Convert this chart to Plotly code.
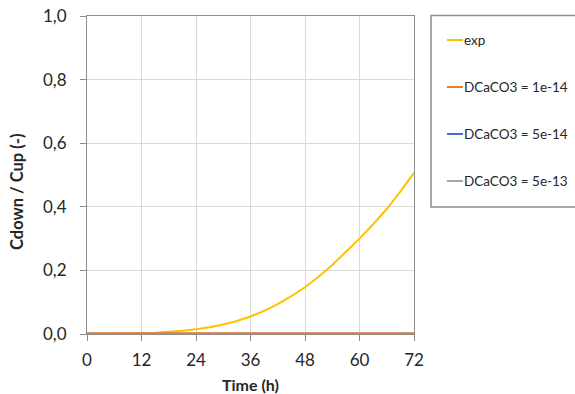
import plotly.graph_objects as go

time_h = [0, 3, 6, 9, 12, 15, 18, 21, 24, 27, 30, 33, 36, 39, 42, 45, 48, 51, 54, 57, 60, 63, 66, 69, 72]
exp_vals = [0.0, 0.0, 0.0003, 0.001, 0.002, 0.004, 0.006, 0.010, 0.015, 0.021, 0.030, 0.041, 0.055,
            0.073, 0.094, 0.119, 0.147, 0.180, 0.217, 0.257, 0.300, 0.345, 0.393, 0.448, 0.507]
model_time = [0, 72]
d_1e14 = [0.002, 0.002]
d_5e14 = [0.001, 0.001]
d_5e13 = [0.0005, 0.0005]

x_ticks = [0, 12, 24, 36, 48, 60, 72]
y_ticks = [0, 0.2, 0.4, 0.6, 0.8, 1.0]

series_names = ["exp", "DCaCO3 = 1e-14", "DCaCO3 = 5e-14", "DCaCO3 = 5e-13"]
series_colors = ["#FFC000", "#ED7D31", "#4472C4", "#A5A5A5"]

W, H = 575, 394
# target plot area in window pixels: x 87..414, y 16..334
ML, MT = 87, 16
MR = W - 414
MB = H - 334
PW, PH = W - ML - MR, H - MT - MB


def px(p):
    """window pixel x -> paper fraction"""
    return (p - ML) / PW


def py(p):
    """window pixel y -> paper fraction"""
    return (H - MB - p) / PH


font = "Lato"
txt = "#262626"
fig = go.Figure()
fig.add_trace(go.Scatter(x=time_h, y=exp_vals, mode="lines", name=series_names[0],
                         line=dict(color=series_colors[0], width=2), showlegend=False))
fig.add_trace(go.Scatter(x=model_time, y=d_5e13, mode="lines", name=series_names[3],
                         line=dict(color=series_colors[3], width=2), showlegend=False))
fig.add_trace(go.Scatter(x=model_time, y=d_5e14, mode="lines", name=series_names[2],
                         line=dict(color=series_colors[2], width=2), showlegend=False))
fig.add_trace(go.Scatter(x=model_time, y=d_1e14, mode="lines", name=series_names[1],
                         line=dict(color=series_colors[1], width=2), showlegend=False))

axis_common = dict(showline=True, linecolor="#8c8c8c", linewidth=1, mirror=True,
                   showgrid=True, gridcolor="#d9d9d9", gridwidth=1, zeroline=False,
                   ticks="outside", ticklen=6, tickcolor="#8c8c8c", automargin=False,
                   ticklabeloverflow="allow",
                   tickfont=dict(family=font, size=17, color=txt))
fig.update_xaxes(range=[0, 72], tickvals=x_ticks, ticklabelstandoff=5,
                 title=dict(text="<b>Time (h)</b>", font=dict(family=font, size=16, color=txt), standoff=11),
                 **axis_common)
fig.update_yaxes(range=[0, 1], tickvals=y_ticks, tickformat=".1f", ticklabelstandoff=10,
                 **axis_common)

# y axis title
fig.add_annotation(text="<b>Cdown / Cup (-)</b>", textangle=-90, xref="paper", yref="paper",
                   x=px(17), y=py(192), xanchor="center", yanchor="middle", showarrow=False,
                   font=dict(family=font, size=16.5, color=txt))

# legend box
fig.add_shape(type="rect", xref="paper", yref="paper", x0=px(431), x1=px(580),
              y0=py(207), y1=py(15.5), line=dict(color="#8c8c8c", width=1.5),
              fillcolor="white", layer="above")
item_y = [40, 87, 134, 181]
for name, color, yy in zip(series_names, series_colors, item_y):
    fig.add_shape(type="line", xref="paper", yref="paper", x0=px(447), x1=px(463),
                  y0=py(yy), y1=py(yy), line=dict(color=color, width=2), layer="above")
    fig.add_annotation(text=name, xref="paper", yref="paper", x=px(462.5), y=py(yy),
                       xanchor="left", yanchor="middle", showarrow=False, borderpad=0,
                       font=dict(family=font, size=13.5, color=txt))

fig.update_layout(
    width=W, height=H,
    margin=dict(l=ML, r=MR, t=MT, b=MB, autoexpand=False),
    paper_bgcolor="white", plot_bgcolor="white",
    separators=",.",
    font=dict(family=font, color=txt),
    showlegend=False,
)
fig.write_html("out.html", config={"displayModeBar": False},
               post_script="document.body.style.margin='0';document.body.style.overflow='hidden';")
